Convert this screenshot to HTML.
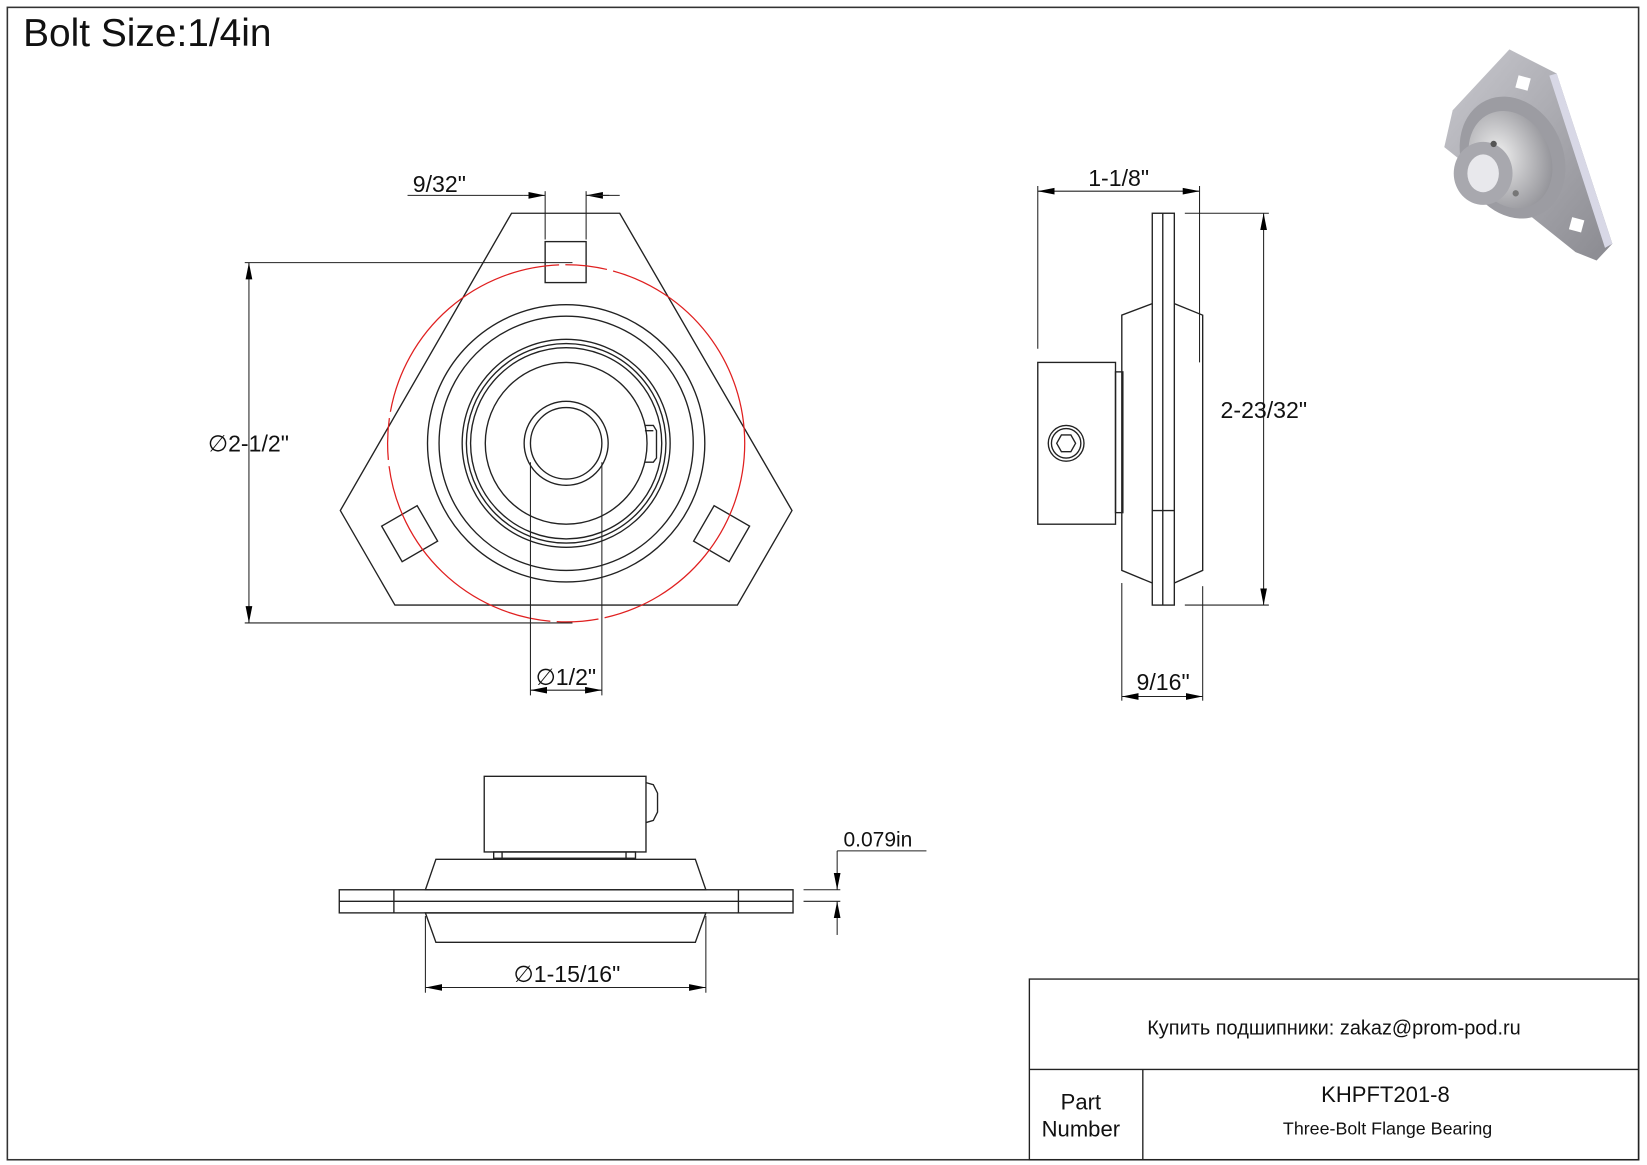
<!DOCTYPE html>
<html><head><meta charset="utf-8"><style>
html,body{margin:0;padding:0;background:#fff;}
svg{display:block;}
text{font-family:"Liberation Sans","DejaVu Sans",sans-serif;fill:#111;}
</style></head><body>
<svg width="1647" height="1165" viewBox="0 0 1568 1109" preserveAspectRatio="none" xmlns="http://www.w3.org/2000/svg">
<defs>
<marker id="a" viewBox="0 0 10 4" refX="10" refY="2" markerWidth="16" markerHeight="7" orient="auto-start-reverse" markerUnits="userSpaceOnUse"><path d="M0,0 L10,2 L0,4z" fill="#000"/></marker>
<linearGradient id="g1" x1="0" y1="0" x2="1" y2="1"><stop offset="0" stop-color="#c9c9cf"/><stop offset="1" stop-color="#8a8a90"/></linearGradient>
<radialGradient id="g2" cx="0.4" cy="0.4" r="0.7"><stop offset="0" stop-color="#eee"/><stop offset="1" stop-color="#8d8d93"/></radialGradient>
</defs>
<rect x="7" y="7" width="1553" height="1097" fill="none" stroke="#333" stroke-width="1.5"/>
<text x="22" y="44" font-size="37">Bolt Size:1/4in</text>

<g fill="none" stroke="#222" stroke-width="1.3">
<polygon points="487,203 590,203 754,486 702,576 376,576 324,486"/>
<rect x="519" y="230" width="39" height="39"/>
<rect x="-19.5" y="-19.5" width="39" height="39" transform="translate(390,508) rotate(-30)"/>
<rect x="-19.5" y="-19.5" width="39" height="39" transform="translate(687,508) rotate(30)"/>
<circle cx="539" cy="422" r="132"/>
<circle cx="539" cy="422" r="121"/>
<circle cx="539" cy="422" r="99"/>
<circle cx="539" cy="422" r="95"/>
<circle cx="539" cy="422" r="91"/>
<circle cx="539" cy="422" r="77"/>
<circle cx="539" cy="422" r="40"/>
<circle cx="539" cy="422" r="34"/>
<path d="M614,405 L622,405 L625,410 L625,436 L622,440 L614,440"/>
<line x1="614" y1="410" x2="622" y2="410"/>
</g>
<circle cx="539" cy="422" r="170" fill="none" stroke="#e02020" stroke-width="1.2" stroke-dasharray="230 6 40 6"/>

<g fill="none" stroke="#222" stroke-width="1">
<line x1="388" y1="186" x2="498" y2="186"/>
<line x1="498" y1="186" x2="519" y2="186" marker-end="url(#a)"/>
<line x1="580" y1="186" x2="558" y2="186" marker-end="url(#a)"/>
<line x1="558" y1="186" x2="590" y2="186"/>
<line x1="519" y1="182" x2="519" y2="228"/>
<line x1="558" y1="182" x2="558" y2="228"/>
<line x1="233" y1="250" x2="545" y2="250"/>
<line x1="233" y1="593" x2="545" y2="593"/>
<line x1="237" y1="250" x2="237" y2="593" marker-start="url(#a)" marker-end="url(#a)"/>
<line x1="505" y1="440" x2="505" y2="662"/>
<line x1="573" y1="440" x2="573" y2="662"/>
<line x1="505" y1="657" x2="573" y2="657" marker-start="url(#a)" marker-end="url(#a)"/>
</g>
<text x="198" y="430" font-size="22">∅2-1/2"</text>
<text x="393" y="183" font-size="22">9/32"</text>
<text x="510" y="652" font-size="22">∅1/2"</text>

<g fill="none" stroke="#222" stroke-width="1.3">
<rect x="1097" y="203" width="21" height="373"/>
<line x1="1107" y1="203" x2="1107" y2="576"/>
<line x1="1097" y1="486" x2="1118" y2="486"/>
<path d="M1097,289 L1068,300 L1068,543 L1097,555"/>
<path d="M1118,289 L1145,300 L1145,543 L1118,555"/>
<rect x="988" y="345" width="74" height="154"/>
<rect x="1062" y="354" width="7" height="134"/>
<circle cx="1015" cy="422" r="17"/>
<circle cx="1015" cy="422" r="14"/>
<polygon points="1006,422 1010.5,414 1019.5,414 1024,422 1019.5,430 1010.5,430"/>
</g>
<g fill="none" stroke="#222" stroke-width="1">
<line x1="988" y1="177" x2="988" y2="332"/>
<line x1="1142" y1="177" x2="1142" y2="345"/>
<line x1="988" y1="182" x2="1142" y2="182" marker-start="url(#a)" marker-end="url(#a)"/>
<line x1="1128" y1="203" x2="1208" y2="203"/>
<line x1="1128" y1="576" x2="1208" y2="576"/>
<line x1="1203" y1="203" x2="1203" y2="576" marker-start="url(#a)" marker-end="url(#a)"/>
<line x1="1068" y1="555" x2="1068" y2="667"/>
<line x1="1145" y1="558" x2="1145" y2="667"/>
<line x1="1068" y1="663" x2="1145" y2="663" marker-start="url(#a)" marker-end="url(#a)"/>
</g>
<text x="1036" y="177" font-size="22">1-1/8"</text>
<text x="1162" y="398" font-size="22">2-23/32"</text>
<text x="1082" y="657" font-size="22">9/16"</text>

<g fill="none" stroke="#222" stroke-width="1.3">
<rect x="461" y="739" width="154" height="72"/>
<path d="M615,745 L622,747 L626,755 L626,773 L622,781 L615,783"/>
<rect x="470" y="811" width="135" height="6"/>
<line x1="478" y1="811" x2="478" y2="817"/>
<line x1="596" y1="811" x2="596" y2="817"/>
<polygon points="415,818 662,818 672,847 405,847"/>
<rect x="323" y="847" width="432" height="22"/>
<line x1="323" y1="858" x2="755" y2="858"/>
<line x1="375" y1="847" x2="375" y2="869"/>
<line x1="703" y1="847" x2="703" y2="869"/>
<polygon points="405,869 672,869 662,897 415,897"/>
</g>
<g fill="none" stroke="#222" stroke-width="1">
<line x1="405" y1="872" x2="405" y2="945"/>
<line x1="672" y1="872" x2="672" y2="945"/>
<line x1="405" y1="940" x2="672" y2="940" marker-start="url(#a)" marker-end="url(#a)"/>
<line x1="765" y1="847" x2="800" y2="847"/>
<line x1="765" y1="858" x2="800" y2="858"/>
<line x1="797" y1="810" x2="797" y2="847" marker-end="url(#a)"/>
<line x1="797" y1="890" x2="797" y2="858" marker-end="url(#a)"/>
<line x1="797" y1="810" x2="882" y2="810"/>
</g>
<text x="489" y="935" font-size="22">∅1-15/16"</text>
<text x="803" y="806" font-size="20">0.079in</text>

<g fill="none" stroke="#222" stroke-width="1.3">
<rect x="980" y="932" width="580" height="172"/>
<line x1="980" y1="1018" x2="1560" y2="1018"/>
<line x1="1088" y1="1018" x2="1088" y2="1104"/>
</g>
<text x="1270" y="985" font-size="19" text-anchor="middle" font-family="'DejaVu Sans',sans-serif">Купить подшипники: zakaz@prom-pod.ru</text>
<text x="1029" y="1056" font-size="21" text-anchor="middle">Part</text>
<text x="1029" y="1082" font-size="21" text-anchor="middle">Number</text>
<text x="1319" y="1049" font-size="21" text-anchor="middle">KHPFT201-8</text>
<text x="1321" y="1080" font-size="17" text-anchor="middle">Three-Bolt Flange Bearing</text>

<g>
<polygon points="1437,47 1482,70 1535,232 1520,248 1500,240 1375,140 1383,105" fill="url(#g1)"/>
<polygon points="1482,70 1535,232 1528,236 1475,72" fill="#d8d8e6"/>
<rect x="1444" y="73" width="12" height="12" fill="#fff" transform="rotate(15 1450 79)"/>
<rect x="1495" y="208" width="12" height="12" fill="#fff" transform="rotate(15 1501 214)"/>
<ellipse cx="1440" cy="150" rx="48" ry="60" fill="#9c9ca2" transform="rotate(-25 1440 150)"/>
<ellipse cx="1438" cy="152" rx="38" ry="48" fill="url(#g2)" transform="rotate(-25 1438 152)"/>
<ellipse cx="1412" cy="165" rx="28" ry="30" fill="#a8a8ae"/>
<ellipse cx="1412" cy="165" rx="15" ry="18" fill="#e8e8ec"/>
<circle cx="1422" cy="137" r="3" fill="#555"/>
<circle cx="1443" cy="184" r="3" fill="#777"/>
</g>
</svg>
</body></html>
